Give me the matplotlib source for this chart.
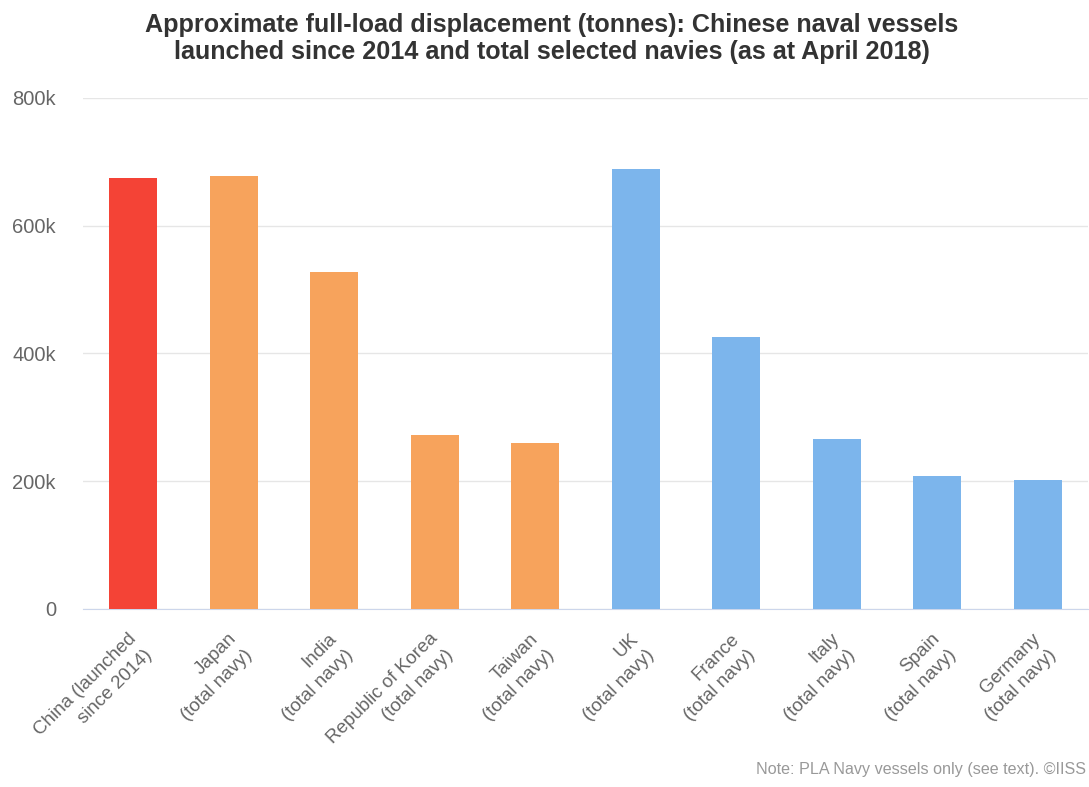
import matplotlib.pyplot as plt
import matplotlib.transforms as mtransforms
import numpy as np

plt.rcParams['font.family'] = ['Liberation Sans', 'DejaVu Sans']

countries = ['China (launched\nsince 2014)', 'Japan\n(total navy)', 'India\n(total navy)',
             'Republic of Korea\n(total navy)', 'Taiwan\n(total navy)', 'UK\n(total navy)',
             'France\n(total navy)', 'Italy\n(total navy)', 'Spain\n(total navy)',
             'Germany\n(total navy)']
tonnes = [675000, 678000, 527000, 272000, 260000, 689000, 426000, 266000, 208000, 202000]
groups = ['china', 'asia', 'asia', 'asia', 'asia', 'europe', 'europe', 'europe', 'europe', 'europe']
group_colours = {'china': '#F44336', 'asia': '#F7A35C', 'europe': '#7CB5EC'}

fig = plt.figure(figsize=(10.89, 7.87), dpi=100)
ax = fig.add_axes([0.0762, 0.2262, 0.9229, 0.6493])

x = np.arange(len(countries))
ax.bar(x, tonnes, width=0.48, color=[group_colours[g] for g in groups], zorder=3)

ax.set_xlim(-0.5, len(countries) - 0.5)
ax.set_ylim(0, 800000)
ax.set_yticks([0, 200000, 400000, 600000, 800000])
ax.set_yticklabels(['0', '200k', '400k', '600k', '800k'])
ax.grid(axis='y', color='#e6e6e6', linewidth=1, zorder=0)
for s in ['top', 'right', 'left']:
    ax.spines[s].set_visible(False)
ax.spines['bottom'].set_color('#ccd6eb')
ax.tick_params(axis='y', length=0, pad=19.5, labelsize=14.5, labelcolor='#666666')
ax.tick_params(axis='x', length=0, pad=13)

ax.set_xticks(x)
ax.set_xticklabels(countries, rotation=45, ha='right', va='top', rotation_mode='anchor',
                   multialignment='right', fontsize=13.5, color='#666666', linespacing=1.45)
shift = mtransforms.ScaledTranslation(-6 / 100, -3 / 100, fig.dpi_scale_trans)
for lab in ax.get_xticklabels():
    lab.set_transform(lab.get_transform() + shift)

fig.text(0.5064, 0.951, 'Approximate full-load displacement (tonnes): Chinese naval vessels\n'
         'launched since 2014 and total selected navies (as at April 2018)',
         ha='center', va='center', fontsize=18.1, fontweight='bold', color='#333333',
         linespacing=1.2)
fig.text(0.997, 0.013, 'Note: PLA Navy vessels only (see text). \u00a9IISS',
         ha='right', va='bottom', fontsize=11.6, color='#999999')

fig.savefig('out.png', dpi=100)
